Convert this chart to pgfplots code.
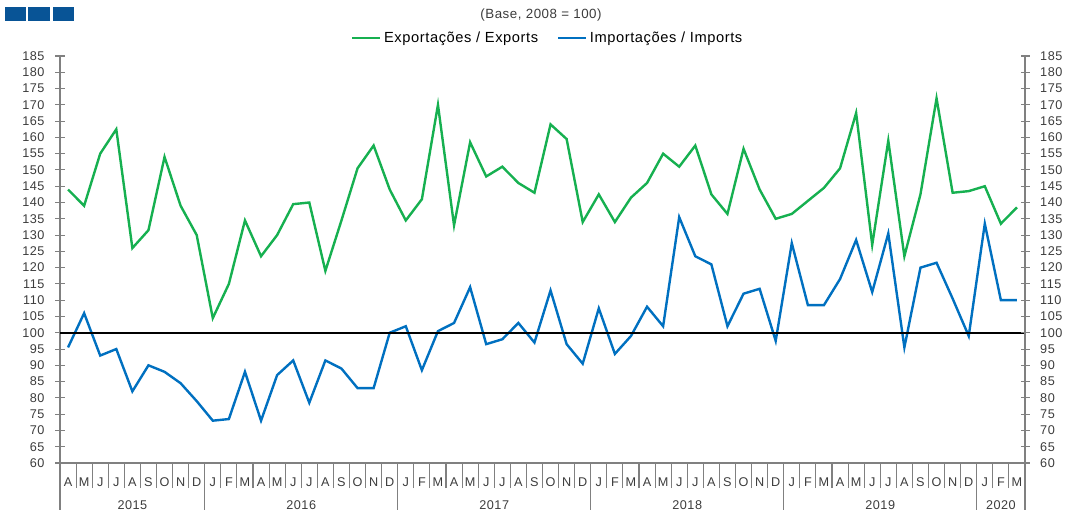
\documentclass[border=0pt]{standalone}
\usepackage{pgfplots}
\pgfplotsset{compat=1.18}
\usepackage{fontspec}
\setmainfont{Liberation Sans}[LetterSpace=4]
\definecolor{expg}{RGB}{22,176,80}
\definecolor{impb}{RGB}{0,112,192}
\definecolor{logob}{RGB}{8,84,150}
\definecolor{axgray}{RGB}{128,128,128}
\definecolor{lblgray}{RGB}{60,60,60}
\pgfplotstableread{
x exp imp
0 144 95.5
1 139 106
2 155 93
3 162.5 95
4 126 82
5 131.5 90
6 154 88
7 139 84.5
8 130 79
9 104.5 73
10 115 73.5
11 134.5 88
12 123.5 73
13 130 87
14 139.5 91.5
15 140 78.5
16 119 91.5
17 134.5 89
18 150.5 83
19 157.5 83
20 144 100
21 134.5 102
22 141 88.5
23 170 100.5
24 133 103
25 158.5 114
26 148 96.5
27 151 98
28 146 103
29 143 97
30 164 113
31 159.5 96.5
32 134 90.5
33 142.5 107.5
34 134 93.5
35 141.5 99
36 146 108
37 155 102
38 151 135.5
39 157.5 123.5
40 142.5 121
41 136.5 102
42 156.5 112
43 144 113.5
44 135 97.5
45 136.5 127.5
46 140.5 108.5
47 144.5 108.5
48 150.5 116.5
49 167.5 128.5
50 127 112.5
51 159 130.5
52 123.5 95.5
53 142.5 120
54 172 121.5
55 143 110.5
56 143.5 99
57 145 133.5
58 133.5 110
59 138.5 110
}\datatable
\begin{document}
\begin{tikzpicture}
\path[use as bounding box] (0,0) rectangle (801.75pt,382.5pt);
% logo squares
\fill[logob] (3.75pt,366.75pt) rectangle (19.5pt,377.25pt);
\fill[logob] (21pt,366.75pt) rectangle (37.5pt,377.25pt);
\fill[logob] (39.75pt,366.75pt) rectangle (55.5pt,377.25pt);
\node[font=\fontsize{10}{12}\selectfont, text=lblgray] at (405.75pt,371.25pt) {(Base, 2008 = 100)};
\begin{axis}[
  at={(45pt,35.25pt)}, anchor=south west,
  scale only axis, width=723.75pt, height=305.25pt,
  xmin=-0.5, xmax=59.5, ymin=60, ymax=185,
  axis x line*=bottom, axis y line*=left,
  axis line style={axgray, line width=0.8pt},
  ytick={60,65,...,185},
  xtick={0,...,59},
  xticklabels={A,M,J,J,A,S,O,N,D,J,F,M,A,M,J,J,A,S,O,N,D,J,F,M,A,M,J,J,A,S,O,N,D,J,F,M,A,M,J,J,A,S,O,N,D,J,F,M,A,M,J,J,A,S,O,N,D,J,F,M},
  minor x tick num=1,
  xtick align=outside, ytick align=center,
  major tick length=6.75pt, minor tick length=18.75pt,
  major x tick style={draw=none},
  minor x tick style={axgray, line width=0.8pt},
  major y tick style={axgray, line width=0.8pt},
  tick label style={font=\fontsize{9.5}{11}\selectfont, text=lblgray},
  xticklabel style={anchor=center, yshift=-7.5pt},
  yticklabel style={xshift=-4.75pt},
  /pgf/number format/assume math mode=true,
  clip=false,
  legend columns=2,
  legend style={at={(0.5057,1.0442)}, anchor=center, draw=none, fill=none,
    font=\fontsize{11}{13}\selectfont, text=black,
    /tikz/every even column/.append style={column sep=12pt}},
  legend image code/.code={\draw[#1] (0pt,0pt) -- (21pt,0pt);},
]
\addplot[expg, line width=1.8pt] table[x=x, y=exp] {\datatable};
\addlegendentry{Exportações / Exports}
\addplot[impb, line width=1.8pt] table[x=x, y=imp] {\datatable};
\addlegendentry{Importações / Imports}
\addplot[black, line width=1.5pt, forget plot] coordinates {(-0.5,100) (59.5,100)};
% year separators
\pgfplotsinvokeforeach{-0.5,8.5,20.5,32.5,44.5,56.5,59.5}{
  \draw[axgray, line width=0.8pt] (axis cs:#1,60) -- ++(0pt,-35.25pt);
}
\node[font=\fontsize{9.5}{11}\selectfont, text=lblgray] at ([yshift=-31.5pt]axis cs:4,60) {2015};
\node[font=\fontsize{9.5}{11}\selectfont, text=lblgray] at ([yshift=-31.5pt]axis cs:14.5,60) {2016};
\node[font=\fontsize{9.5}{11}\selectfont, text=lblgray] at ([yshift=-31.5pt]axis cs:26.5,60) {2017};
\node[font=\fontsize{9.5}{11}\selectfont, text=lblgray] at ([yshift=-31.5pt]axis cs:38.5,60) {2018};
\node[font=\fontsize{9.5}{11}\selectfont, text=lblgray] at ([yshift=-31.5pt]axis cs:50.5,60) {2019};
\node[font=\fontsize{9.5}{11}\selectfont, text=lblgray] at ([yshift=-31.5pt]axis cs:58,60) {2020};
\end{axis}
\begin{axis}[
  at={(45pt,35.25pt)}, anchor=south west,
  scale only axis, width=723.75pt, height=305.25pt,
  xmin=-0.5, xmax=59.5, ymin=60, ymax=185,
  axis x line=none, axis y line*=right,
  axis line style={axgray, line width=0.8pt},
  ytick={60,65,...,185},
  ytick align=center, major tick length=6.75pt,
  major y tick style={axgray, line width=0.8pt},
  tick label style={font=\fontsize{9.5}{11}\selectfont, text=lblgray},
  yticklabel style={xshift=4.5pt},
  /pgf/number format/assume math mode=true,
]
\addplot[draw=none, forget plot] coordinates {(0,100)};
\end{axis}
\end{tikzpicture}
\end{document}
